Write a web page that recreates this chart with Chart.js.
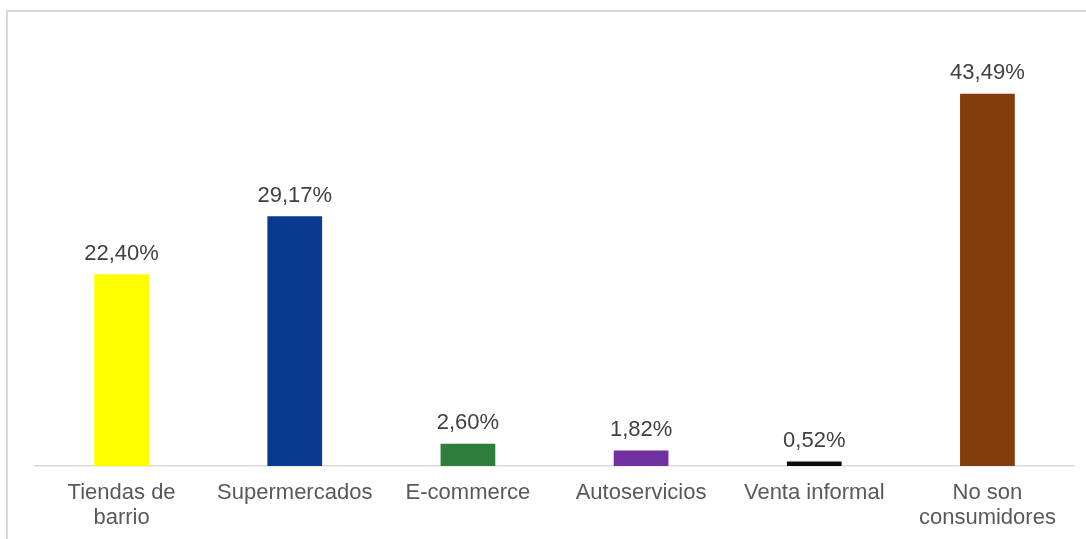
<!DOCTYPE html>
<html>
<head>
<meta charset="utf-8">
<script src="https://cdn.jsdelivr.net/npm/chart.js@4.4.1/dist/chart.umd.min.js"></script>
<style>
  html, body { margin: 0; padding: 0; background: #ffffff; }
  #wrap { position: relative; width: 1086px; height: 539px; overflow: hidden; }
  #frame { position: absolute; left: 6px; top: 10px; right: -4px; bottom: -4px;
           border-top: 2px solid #d9d9d9; border-left: 2px solid #d9d9d9; }
  canvas { position: absolute; left: 0; top: 0; }
</style>
</head>
<body>
<div id="wrap">
  <div id="frame"></div>
  <canvas id="c" width="1086" height="539"></canvas>
</div>
<script>
const categories = [
  ["Tiendas de", "barrio"],
  "Supermercados",
  "E-commerce",
  "Autoservicios",
  "Venta informal",
  ["No son", "consumidores"]
];
const shares = [22.40, 29.17, 2.60, 1.82, 0.52, 43.49];
const barColors = ["#ffff00", "#0a3a8f", "#2e7d3c", "#7030a0", "#0d0d0d", "#833c0b"];

const FONT = "'Liberation Sans', Arial, sans-serif";

// percentage labels printed above each bar
const valueLabels = {
  id: "valueLabels",
  afterDatasetsDraw(chart) {
    const ctx = chart.ctx;
    const meta = chart.getDatasetMeta(0);
    ctx.save();
    ctx.font = "22px " + FONT;
    ctx.fillStyle = "#404040";
    ctx.textAlign = "center";
    ctx.textBaseline = "middle";
    meta.data.forEach((bar, i) => {
      const txt = shares[i].toFixed(2).replace(".", ",") + "%";
      ctx.fillText(txt, bar.x, bar.y - 20.5);
    });
    ctx.restore();
  }
};

new Chart(document.getElementById("c"), {
  type: "bar",
  data: {
    labels: categories,
    datasets: [{
      data: shares,
      backgroundColor: barColors,
      borderWidth: 0,
      categoryPercentage: 1,
      barPercentage: 0.316
    }]
  },
  options: {
    responsive: false,
    animation: false,
    layout: { padding: { left: 35, right: 12, top: 38, bottom: 0 } },
    plugins: { legend: { display: false }, tooltip: { enabled: false } },
    scales: {
      y: { display: false, min: 0, max: 50 },
      x: {
        afterFit(scale) { scale.height = 73; },
        grid: { display: false, drawTicks: false },
        border: { display: true, color: "#d9d9d9", width: 1.5 },
        ticks: {
          color: "#595959",
          padding: 14.5,
          maxRotation: 0,
          autoSkip: false,
          font: { family: FONT, size: 22, lineHeight: 25 / 22 }
        }
      }
    }
  },
  plugins: [valueLabels]
});
</script>
</body>
</html>
